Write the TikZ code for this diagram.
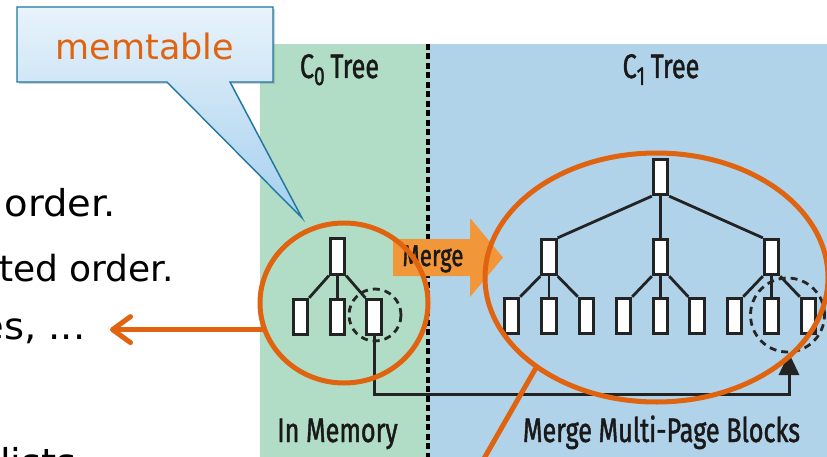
\documentclass[tikz,border=0pt]{standalone}
\usepackage{fontspec}
\setmainfont{DejaVu Sans}
\newfontfamily\bodyfont[FakeStretch=1.04]{DejaVu Sans}
\newfontfamily\condfont[FakeStretch=0.74,FakeBold=1.3]{Fira Sans}
\usetikzlibrary{arrows.meta,shapes.geometric,shadows}
\definecolor{pgreen}{RGB}{177,221,198}
\definecolor{pblue}{RGB}{177,211,234}
\definecolor{hl}{RGB}{224,100,16}
\definecolor{marrow}{RGB}{242,150,58}
\definecolor{cborder}{RGB}{30,120,160}
\definecolor{ctop}{RGB}{232,243,251}
\definecolor{cbot}{RGB}{165,207,238}
\definecolor{ink}{RGB}{25,25,25}
\definecolor{boxdark}{RGB}{35,35,35}
\begin{document}
\begin{tikzpicture}[x=1pt,y=-1pt,
  blk/.style={rectangle, draw=boxdark, fill=white, line width=2.8pt, minimum width=14.5pt, minimum height=35.5pt, inner sep=0pt},
  tl/.style={draw=boxdark, line width=2.8pt},
  hlring/.style={ellipse, draw=hl, line width=5pt, inner sep=0pt},
  dring/.style={circle, draw=black!85, line width=2.8pt, dash pattern=on 7pt off 5pt, inner sep=0pt},
  lbl/.style={font=\condfont\fontsize{34pt}{34pt}\selectfont, text=ink, inner sep=0pt, anchor=base},
  body/.style={font=\bodyfont\fontsize{37pt}{40pt}\selectfont, text=black, inner sep=0pt},
  hlline/.style={draw=hl, line width=5pt, line cap=round}
]
\useasboundingbox (0,0) rectangle (827,457);
\clip (0,0) rectangle (827,457);
\fill[white] (0,0) rectangle (827,457);
% panels
\fill[pgreen] (260,44) rectangle (428,457);
\fill[pblue] (428,44) rectangle (827,457);
\draw[line width=3.8pt, dash pattern=on 6pt off 3.5pt] (428,44) -- (428,457);
% merge arrow
\fill[marrow] (393,239) -- (470,239) -- (470,218) -- (503,257.5) -- (470,297) -- (470,276) -- (393,276) -- cycle;
\node[lbl, font=\condfont\fontsize{30pt}{30pt}\selectfont] (mergelbl) at (433,266) {Merge};
% labels
\node[lbl] (c0lbl) at (339.5,78) {C\raisebox{-7pt}{\fontsize{26pt}{26pt}\selectfont 0}\,Tree};
\node[lbl] (c1lbl) at (661,78) {C\raisebox{-7pt}{\fontsize{26pt}{26pt}\selectfont 1}\,Tree};
\node[lbl] (memlbl) at (337.5,442) {In Memory};
\node[lbl] (mmlbl) at (661.5,442) {Merge Multi-Page Blocks};
% C0 tree
\node[blk] (a0) at (337.5,256.5) {};
\node[blk] (a1) at (300.5,317) {};
\node[blk] (a2) at (337.5,317) {};
\node[blk] (a3) at (374,317) {};
\draw[tl] (a0.south west) -- (a1.north east);
\draw[tl] (a0.south) -- (a2.north);
\draw[tl] (a0.south east) -- (a3.north west);
% C1 tree
\node[blk] (r) at (660.5,177) {};
\node[blk] (m1) at (549,257) {};
\node[blk] (m2) at (660.5,257) {};
\node[blk] (m3) at (771.5,257) {};
\foreach \i/\x in {1/511.5,2/549,3/586.5,4/623.5,5/660.5,6/697,7/734.5,8/771.5,9/808.5}
  \node[blk] (l\i) at (\x,316) {};
\draw[tl] (r.south west) -- (m1.north east);
\draw[tl] (r.south) -- (m2.north);
\draw[tl] (r.south east) -- (m3.north west);
\draw[tl] (m1.south west) -- (l1.north east);
\draw[tl] (m1.south) -- (l2.north);
\draw[tl] (m1.south east) -- (l3.north west);
\draw[tl] (m2.south west) -- (l4.north east);
\draw[tl] (m2.south) -- (l5.north);
\draw[tl] (m2.south east) -- (l6.north west);
\draw[tl] (m3.south west) -- (l7.north east);
\draw[tl] (m3.south) -- (l8.north);
\draw[tl] (m3.south east) -- (l9.north west);
% dashed circles
\node[dring, minimum size=52pt] (d0) at (375,315) {};
\node[dring, minimum size=74pt] (d1) at (787.5,315) {};
% connector
\coordinate (tipc) at (789,353);
\draw[draw=boxdark, line width=3pt, -{Triangle[width=20pt,length=22pt]}] (a3.south) -- ++(0,58) -| (tipc);
% orange rings
\node[hlring, minimum width=168pt, minimum height=160pt] (o0) at (344,303) {};
\node[hlring, minimum width=343pt, minimum height=249pt] (o1) at (656.5,277.5) {};
\coordinate (lt) at (110,329);
\draw[hlline, -{Straight Barb[length=18pt,width=26pt,round]}] (o0.198) -- (o0.198 -| lt);
\coordinate (oe) at (470,483);
\draw[hlline] (o1.217) -- (oe);
% callout
\path[draw=cborder, line width=1.4pt, top color=ctop, bottom color=cbot, line join=miter,
      drop shadow={opacity=0.35, shadow xshift=2pt, shadow yshift=-2pt}]
  (17,7) -- (273,7) -- (273,82) -- (230,82) -- (302,218) -- (167,82) -- (17,82) -- cycle;
\node[inner sep=0pt, text=hl, anchor=base, font=\fontsize{35pt}{40pt}\selectfont] (memt) at (145,60) {memtable};
% body text
\node[body, anchor=base east] (t1) at (116,217) {order.};
\node[body, anchor=base east, font=\fontsize{36pt}{40pt}\selectfont] (t2) at (174,281) {ted order.};
\node[body, anchor=base east] (t3) at (81,339) {es,\hspace{12pt}\makebox[32pt][s]{.\hfil.\hfil.}};
\node[body, anchor=base west] (t4) at (0,475) {lists};
\end{tikzpicture}
\end{document}
